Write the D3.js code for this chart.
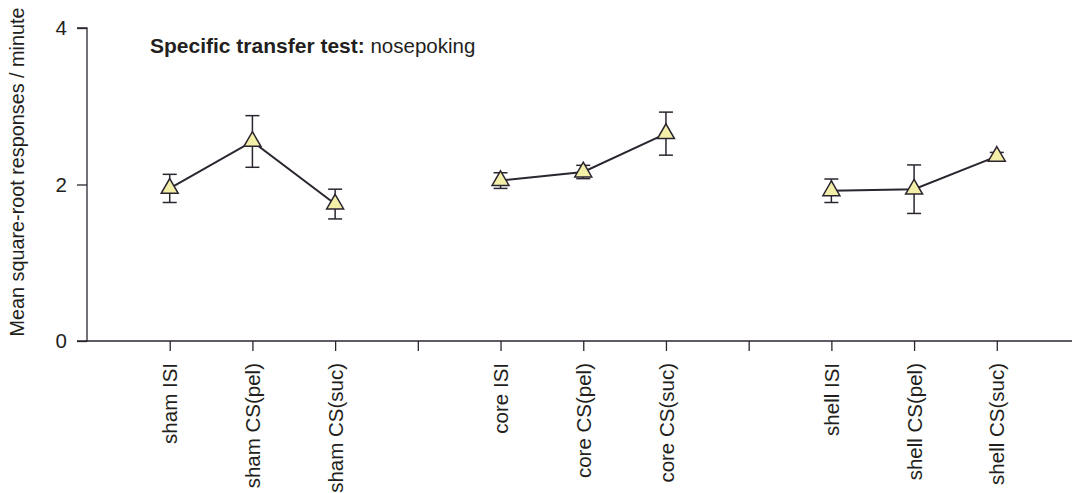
<!DOCTYPE html>
<html>
<head>
<meta charset="utf-8">
<script src="https://cdn.jsdelivr.net/npm/d3@7"></script>
<style>
  html, body { margin: 0; padding: 0; background: #fff; }
  svg { display: block; }
  text { font-family: "Liberation Sans", Arial, Helvetica, sans-serif; fill: #231f20; }
</style>
</head>
<body>
<svg id="chart" width="1072" height="493"></svg>
<script>
// ---- data ----
const groups = ["sham", "core", "shell"];
const categories = ["sham ISI", "sham CS(pel)", "sham CS(suc)",
                    "core ISI", "core CS(pel)", "core CS(suc)",
                    "shell ISI", "shell CS(pel)", "shell CS(suc)"];
const means = [1.95, 2.55, 1.75, 2.05, 2.16, 2.65, 1.92, 1.94, 2.36];
const sems  = [0.18, 0.33, 0.19, 0.10, 0.085, 0.275, 0.15, 0.31, 0.05];
const yTicks = [0, 2, 4];
const yTitle = "Mean square-root responses / minute";
const titleBold = "Specific transfer test:";
const titleRest = " nosepoking";

// ---- layout ----
const svg = d3.select("#chart");
const ink = "#2b2530";
const x0 = 87, y0 = 341, yTop = 28;
const nSlots = 12;
const slotOf = i => i + Math.floor(i / 3) + 1;

const x = d3.scaleLinear().domain([0, nSlots]).range([x0, 1079.5]);
const y = d3.scaleLinear().domain([0, 4]).range([y0, yTop]);

// y axis
const yAxis = d3.axisLeft(y).tickValues(yTicks).tickFormat(d3.format("d"))
  .tickSize(10).tickPadding(10);
const gy = svg.append("g").attr("transform", `translate(${x0},0)`).call(yAxis);
gy.select(".domain").attr("d", `M-10,${y(4)}H0V${y(0)}H-10`).attr("stroke", ink).attr("stroke-width", 1.3);
gy.selectAll(".tick line").attr("stroke", ink).attr("stroke-width", 1.3);
gy.selectAll(".tick text").style("font-size", "20.5px").style("font-family", "'Liberation Sans', Arial, sans-serif").attr("fill", "#231f20");

// x axis
const slotTicks = d3.range(1, nSlots);
const labelBySlot = {};
categories.forEach((c, i) => { labelBySlot[slotOf(i)] = c; });
const xAxis = d3.axisBottom(x).tickValues(slotTicks)
  .tickFormat(s => labelBySlot[s] || "").tickSize(10).tickPadding(0);
const gx = svg.append("g").attr("transform", `translate(0,${y0})`).call(xAxis);
gx.select(".domain").attr("d", `M${x0},0H${x(nSlots)}`).attr("stroke", ink).attr("stroke-width", 1.3);
gx.selectAll(".tick line").attr("stroke", ink).attr("stroke-width", 1.3);
gx.selectAll(".tick text")
  .style("font-size", "20.5px").style("font-family", "'Liberation Sans', Arial, sans-serif")
  .attr("fill", "#231f20")
  .attr("text-anchor", "end")
  .attr("transform", "rotate(-90)")
  .attr("x", -22).attr("y", 0).attr("dy", "0.35em");

// y title
svg.append("text")
  .attr("transform", `translate(24,172) rotate(-90)`)
  .attr("text-anchor", "middle")
  .style("font-size", "19.8px")
  .text(yTitle);

// chart title
const t = svg.append("text").attr("x", 150).attr("y", 53).style("font-size", "21px");
t.append("tspan").attr("font-weight", "bold").text(titleBold);
t.append("tspan").style("font-size", "20.5px").text(titleRest);

// lines per group
const line = d3.line().x(d => x(d.slot)).y(d => y(d.m));
const pts = categories.map((c, i) => ({ c, i, slot: slotOf(i), m: means[i], s: sems[i], g: groups[Math.floor(i / 3)] }));
groups.forEach(g => {
  svg.append("path")
    .datum(pts.filter(p => p.g === g))
    .attr("d", line)
    .attr("fill", "none").attr("stroke", ink).attr("stroke-width", 2);
});

// error bars
const eb = svg.append("g").attr("stroke", ink).attr("stroke-width", 1.5);
pts.forEach(p => {
  const cx = x(p.slot);
  const top = y(p.m + p.s), bot = y(p.m - p.s);
  eb.append("line").attr("x1", cx).attr("x2", cx).attr("y1", top).attr("y2", bot);
  eb.append("line").attr("x1", cx - 7).attr("x2", cx + 7).attr("y1", top).attr("y2", top);
  eb.append("line").attr("x1", cx - 7).attr("x2", cx + 7).attr("y1", bot).attr("y2", bot);
});

// triangle markers
const tri = d3.symbol().type(d3.symbolTriangle).size(125);
svg.append("g").selectAll("path").data(pts).join("path")
  .attr("d", tri)
  .attr("transform", p => `translate(${x(p.slot)},${y(p.m)})`)
  .attr("fill", "#f3eea8").attr("stroke", ink).attr("stroke-width", 1.5);
</script>
</body>
</html>
